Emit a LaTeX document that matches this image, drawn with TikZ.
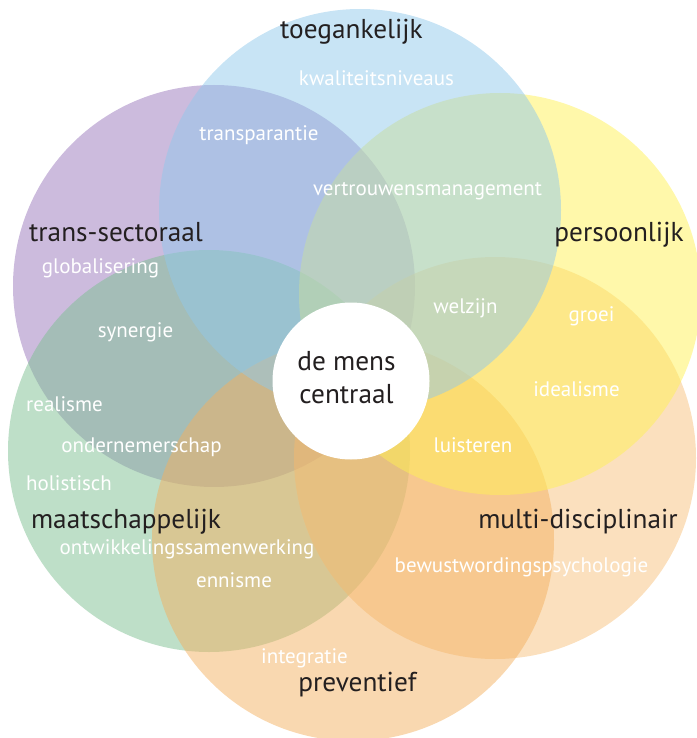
\documentclass[tikz,border=0pt]{standalone}
\usepackage{fontspec}
\setmainfont{PT Sans}
\definecolor{cblue}{RGB}{145,201,235}
\definecolor{cpurple}{RGB}{153,119,187}
\definecolor{cyellow}{RGB}{255,241,85}
\definecolor{cpeach}{RGB}{247,193,125}
\definecolor{cgreen}{RGB}{125,191,145}
\definecolor{corange}{RGB}{243,177,97}
\definecolor{ink}{RGB}{35,31,32}
\begin{document}
\begin{tikzpicture}[x=1pt,y=-1pt,
  blob/.style={circle,inner sep=0pt,minimum size=402pt,fill opacity=0.5,draw=none},
  hub/.style={circle,inner sep=0pt,minimum size=157pt,fill=white,draw=none},
  title/.style={anchor=base,inner sep=0pt,text=ink,font=\fontsize{27.3}{30}\selectfont},
  word/.style={anchor=base,inner sep=0pt,text=white,font=\fontsize{21}{24}\selectfont}]
\useasboundingbox (0,0) rectangle (696,738);
\node[blob,fill=cpurple] (purple) at (214,286) {};
\node[blob,fill=cgreen]  (green)  at (209,451) {};
\node[blob,fill=cpeach]  (peach)  at (495,458) {};
\node[blob,fill=corange] (orange) at (353,540) {};
\node[blob,fill=cyellow] (yellow) at (500,294) {};
\node[blob,fill=cblue]   (blue)   at (360,210) {};
\node[hub] (hub) at (351,381) {};
% titles
\node[title] (t1) at (351.5,39) {toegankelijk};
\node[title] (t2) at (116,241) {trans-sectoraal};
\node[title] (t3) at (619,241) {persoonlijk};
\node[title] (t4) at (126,528) {maatschappelijk};
\node[title] (t5) at (578,528) {multi-disciplinair};
\node[title] (t6) at (357.5,691) {preventief};
\node[title] (c1) at (346.5,370) {de mens};
\node[title] (c2) at (346.5,403) {centraal};
% words
\node[word] (w1) at (376.5,86) {kwaliteitsniveaus};
\node[word] (w2) at (259,141) {transparantie};
\node[word] (w3) at (427.5,195) {vertrouwensmanagement};
\node[word] (w4) at (100.5,273) {globalisering};
\node[word] (w5) at (135.5,337) {synergie};
\node[word] (w6) at (465.5,313) {welzijn};
\node[word] (w7) at (591.5,321) {groei};
\node[word] (w8) at (64.5,411) {realisme};
\node[word] (w9) at (141.5,452) {ondernemerschap};
\node[word] (w10) at (69,490) {holistisch};
\node[word] (w11) at (187,554) {ontwikkelingssamenwerking};
\node[word] (w12) at (234,587) {ennisme};
\node[word] (w13) at (304.5,663) {integratie};
\node[word] (w14) at (576.5,396) {idealisme};
\node[word] (w15) at (473,452) {luisteren};
\node[word] (w16) at (521.5,572) {bewustwordingspsychologie};
\end{tikzpicture}
\end{document}
